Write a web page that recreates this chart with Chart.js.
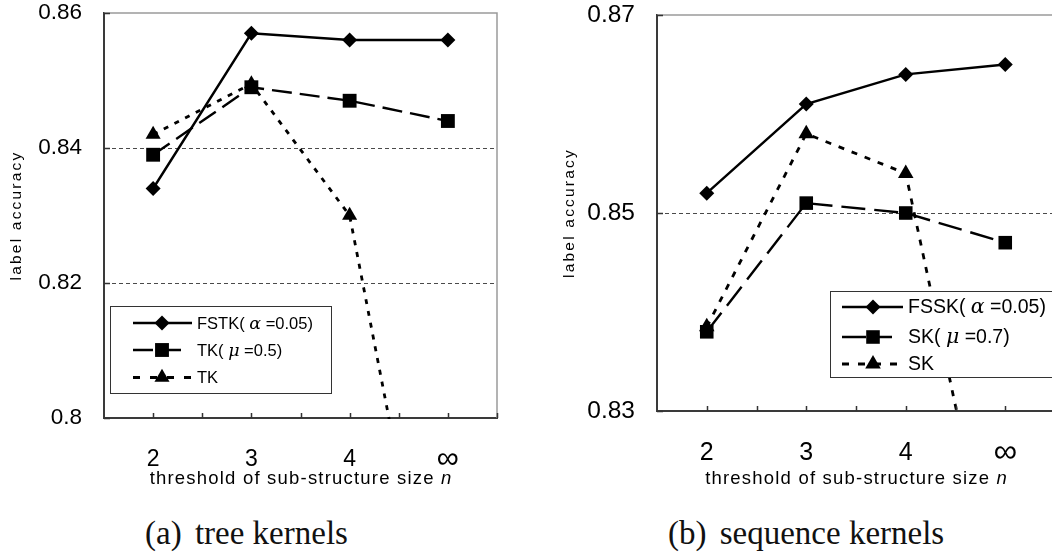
<!DOCTYPE html>
<html>
<head>
<meta charset="utf-8">
<title>label accuracy vs. threshold of sub-structure size</title>
<script src="https://cdn.jsdelivr.net/npm/chart.js@4.4.1/dist/chart.umd.min.js"></script>
<style>
  html, body { margin: 0; padding: 0; background: #fff; }
  #page { position: relative; width: 1052px; height: 560px; overflow: hidden; background: #fff; }
  .panel { position: absolute; top: 0; height: 500px; }
  #treeBox { left: 0; width: 520px; }
  #seqBox { left: 540px; width: 530px; }
  .caption {
    position: absolute; top: 517px; line-height: 33px; white-space: nowrap;
    font-family: "Liberation Serif", "DejaVu Serif", serif; font-size: 33px; color: #111;
  }
  .caption .tag { word-spacing: 5px; }
</style>
</head>
<body>
<div id="page">
  <div class="panel" id="treeBox"><canvas id="treeChart" width="520" height="500"></canvas></div>
  <div class="panel" id="seqBox"><canvas id="seqChart" width="530" height="500"></canvas></div>
  <div class="caption" style="left:145px"><span class="tag">(a) </span>tree kernels</div>
  <div class="caption" style="left:668px"><span class="tag">(b) </span>sequence kernels</div>
</div>
<script>
// x categories: threshold of sub-structure size n
const thresholds = ['2', '3', '4', '∞'];

// (a) tree kernels
const treeNames = ['FSTK(α=0.05)', 'TK(μ=0.5)', 'TK'];
const fstk = [0.834, 0.857, 0.856, 0.856];
const tkMu = [0.839, 0.849, 0.847, 0.844];
const tk   = [0.842, 0.8495, 0.830, 0.755];
const treeTicks = [0.80, 0.82, 0.84, 0.86];

// (b) sequence kernels
const seqNames = ['FSSK(α=0.05)', 'SK(μ=0.7)', 'SK'];
const fssk = [0.852, 0.861, 0.864, 0.865];
const skMu = [0.838, 0.851, 0.850, 0.847];
const sk   = [0.8385, 0.858, 0.854, 0.807];
const seqTicks = [0.83, 0.85, 0.87];

const SANS = '"Liberation Sans", Arial, sans-serif';
const GREEK = '"DejaVu Serif", "Liberation Serif", serif';
Chart.defaults.font.family = SANS;
Chart.defaults.color = '#000';

// draw a run of text pieces with their own fonts
function drawRuns(ctx, runs, x, y, align) {
  const widths = runs.map(r => {
    ctx.font = r.font;
    ctx.letterSpacing = r.spacing || '0px';
    return ctx.measureText(r.text).width;
  });
  const total = widths.reduce((s, w) => s + w, 0);
  let cx = align === 'center' ? x - total / 2 : x;
  ctx.textAlign = 'left';
  runs.forEach((r, i) => {
    ctx.font = r.font;
    ctx.letterSpacing = r.spacing || '0px';
    ctx.fillText(r.text, cx, y);
    cx += widths[i];
  });
  ctx.letterSpacing = '0px';
}

function drawMarker(ctx, style, radius, x, y) {
  if (Chart.helpers && Chart.helpers.drawPoint) {
    Chart.helpers.drawPoint(ctx, { pointStyle: style, radius, borderWidth: 0, rotation: 0 }, x, y);
    return;
  }
  ctx.beginPath();
  if (style === 'rectRot') {
    ctx.moveTo(x, y - radius); ctx.lineTo(x + radius, y); ctx.lineTo(x, y + radius); ctx.lineTo(x - radius, y);
  } else if (style === 'rect') {
    const s = radius * Math.SQRT1_2;
    ctx.rect(x - s, y - s, 2 * s, 2 * s);
  } else {
    ctx.moveTo(x, y - radius); ctx.lineTo(x + radius * 0.866, y + radius / 2); ctx.lineTo(x - radius * 0.866, y + radius / 2);
  }
  ctx.closePath();
  ctx.fill();
}

// frame, inner tick marks, axis titles and the boxed legend
const panelDecor = {
  id: 'panelDecor',
  afterDatasetsDraw(chart, args, opts) {
    const { ctx, chartArea: a, scales: { x, y } } = chart;
    ctx.save();

    // light frame on top and right
    ctx.setLineDash([]);
    ctx.strokeStyle = '#9a9a9a';
    ctx.lineWidth = 1.5;
    ctx.beginPath();
    ctx.moveTo(a.left, a.top); ctx.lineTo(a.right, a.top); ctx.lineTo(a.right, a.bottom);
    ctx.stroke();

    // tick marks pointing into the plot
    ctx.strokeStyle = '#333';
    ctx.lineWidth = 1.5;
    ctx.beginPath();
    y.ticks.forEach(t => {
      const py = Math.round(y.getPixelForValue(t.value)) + 0.5;
      ctx.moveTo(a.left, py); ctx.lineTo(a.left + 6, py);
    });
    const n = x.ticks.length;
    const step = n > 1 ? x.getPixelForValue(1) - x.getPixelForValue(0) : 0;
    for (let i = 0; i < n; i++) {
      const px = x.getPixelForValue(i);
      [px, px + step / 2].forEach(p => {
        const q = Math.round(p) + 0.5;
        ctx.moveTo(q, a.bottom); ctx.lineTo(q, a.bottom - 5);
      });
    }
    ctx.stroke();

    // axis titles
    ctx.fillStyle = '#000';
    ctx.textBaseline = 'middle';
    drawRuns(ctx, [
      { text: 'threshold of sub-structure size ', font: `18.5px ${SANS}`, spacing: '1.2px' },
      { text: 'n', font: `italic 18.5px ${SANS}` }
    ], (a.left + a.right) / 2, opts.xTitleY, 'center');

    ctx.save();
    ctx.translate(a.left - 87, (a.top + a.bottom) / 2);
    ctx.rotate(-Math.PI / 2);
    drawRuns(ctx, [{ text: 'label accuracy', font: `15.5px ${SANS}`, spacing: '2.2px' }], 0, 0, 'center');
    ctx.restore();

    // legend
    const L = opts.legend;
    ctx.fillStyle = '#fff';
    ctx.fillRect(L.x, L.y, L.w, L.h);
    ctx.strokeStyle = '#333';
    ctx.lineWidth = 1;
    ctx.strokeRect(L.x + 0.5, L.y + 0.5, L.w, L.h);
    chart.data.datasets.forEach((ds, i) => {
      const ry = L.rows[i];
      ctx.strokeStyle = ds.borderColor;
      ctx.lineWidth = ds.borderWidth;
      ctx.setLineDash(ds.legendDash || ds.borderDash || []);
      ctx.beginPath();
      ctx.moveTo(L.lineX0, ry); ctx.lineTo(L.lineX1[i], ry);
      ctx.stroke();
      ctx.setLineDash([]);
      ctx.fillStyle = ds.pointBackgroundColor;
      drawMarker(ctx, ds.pointStyle, ds.pointRadius, L.markX, ry);

      ctx.fillStyle = '#000';
      ctx.textBaseline = 'middle';
      const parts = ds.label.split(/([αμ])/);
      const runs = parts.filter(p => p !== '').map(p => /[αμ]/.test(p)
        ? { text: p, font: `italic ${L.font + 1}px ${GREEK}` }
        : { text: p.replace('(', '( ').replace('=', ' ='), font: `${L.font}px ${SANS}` });
      drawRuns(ctx, runs, L.textX, ry + 1, 'left');
    });

    ctx.restore();
  }
};

function makePanel(id, p) {
  const series = p.series.map(s => ({
    label: s.name,
    data: s.data,
    borderColor: '#000',
    backgroundColor: '#000',
    pointBackgroundColor: '#000',
    pointBorderWidth: 0,
    borderWidth: s.width,
    borderDash: s.dash,
    legendDash: s.legendDash,
    pointStyle: s.style,
    pointRadius: s.radius,
    pointHoverRadius: s.radius,
    tension: 0,
    clip: { left: 20, right: 20, top: 20, bottom: 1 }
  }));

  return new Chart(document.getElementById(id), {
    type: 'line',
    data: { labels: thresholds, datasets: series },
    options: {
      responsive: false,
      animation: false,
      events: [],
      layout: { padding: { top: p.padTop, right: p.padRight, left: 0, bottom: 0 } },
      plugins: {
        legend: { display: false },
        tooltip: { enabled: false },
        panelDecor: { legend: p.legend, xTitleY: p.xTitleY }
      },
      scales: {
        x: {
          type: 'category',
          offset: true,
          grid: { display: false },
          border: { display: true, color: '#3a3a3a', width: 2 },
          ticks: {
            color: '#000',
            padding: p.xPad,
            maxRotation: 0,
            autoSkip: false,
            font: c => c.index === 3
              ? { family: SANS, size: p.xFont + 8, lineHeight: (p.xFont * 1.2) / (p.xFont + 8) }
              : { family: SANS, size: p.xFont }
          },
          afterFit(s) { s.height = p.xAxisHeight; }
        },
        y: {
          type: 'linear',
          min: p.yMin,
          max: p.yMax,
          afterBuildTicks(s) { s.ticks = p.yTicks.map(v => ({ value: v })); },
          grid: {
            drawTicks: false,
            lineWidth: 1,
            color: c => (c.tick && p.dashedAt.some(v => Math.abs(v - c.tick.value) < 1e-9)) ? '#4a4a4a' : 'rgba(0,0,0,0)'
          },
          border: { display: true, color: '#3a3a3a', width: 2, dash: [4, 3] },
          ticks: {
            color: '#000',
            padding: 22,
            font: { family: SANS, size: p.tickFont },
            callback: v => String(Number(v.toFixed(2)))
          },
          afterFit(s) {
            s.width = p.yAxisWidth;
            s.paddingTop = 0;
            s.paddingBottom = 0;
          }
        }
      }
    },
    plugins: [panelDecor]
  });
}

makePanel('treeChart', {
  series: [
    { name: treeNames[0], data: fstk, style: 'rectRot', radius: 7.5, dash: [], width: 2.4 },
    { name: treeNames[1], data: tkMu, style: 'rect', radius: 9.8, dash: [20, 8], width: 2.4 },
    { name: treeNames[2], data: tk, style: 'triangle', radius: 8.7, dash: [5, 7], width: 2.8, legendDash: [7, 10] }
  ],
  yMin: 0.80, yMax: 0.86, yTicks: treeTicks, dashedAt: [0.82, 0.84],
  yAxisWidth: 104, xAxisHeight: 82, padTop: 13, padRight: 23,
  tickFont: 22.5, xFont: 23, xPad: 20, xTitleY: 479,
  legend: {
    x: 110, y: 306, w: 221, h: 87, rows: [323, 350, 377.5],
    lineX0: 133, lineX1: [192, 185, 192], markX: 162, textX: 197, font: 16.5
  }
});

makePanel('seqChart', {
  series: [
    { name: seqNames[0], data: fssk, style: 'rectRot', radius: 7.5, dash: [], width: 2.4 },
    { name: seqNames[1], data: skMu, style: 'rect', radius: 9.6, dash: [24, 9], width: 2.4 },
    { name: seqNames[2], data: sk, style: 'triangle', radius: 9, dash: [6, 8], width: 2.8, legendDash: [7, 9] }
  ],
  yMin: 0.83, yMax: 0.87, yTicks: seqTicks, dashedAt: [0.85],
  yAxisWidth: 117, xAxisHeight: 89, padTop: 15, padRight: 15,
  tickFont: 24.5, xFont: 25, xPad: 19, xTitleY: 479,
  legend: {
    x: 290, y: 291, w: 240, h: 86, rows: [307, 337, 364],
    lineX0: 302, lineX1: [363, 352, 358], markX: 333, textX: 368, font: 19.5
  }
});
</script>
</body>
</html>
